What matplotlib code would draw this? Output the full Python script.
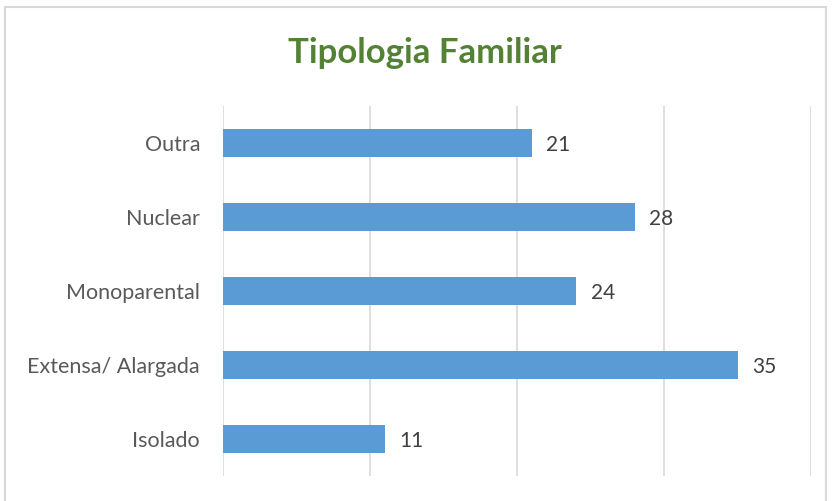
import matplotlib.pyplot as plt
from matplotlib.patches import Rectangle

categories = ['Isolado', 'Extensa/ Alargada', 'Monoparental', 'Nuclear', 'Outra']
values = [11, 35, 24, 28, 21]

plt.rcParams['font.family'] = ['Lato', 'DejaVu Sans']

W, H = 832, 501
fig = plt.figure(figsize=(W / 100, H / 100), dpi=100)
ax = fig.add_axes([223 / W, (H - 476) / H, (811 - 223) / W, 370 / H])

# chart frame
fig.patches.append(Rectangle((5 / W, -0.05), (826 - 5) / W, (H - 7) / H + 0.05,
                             transform=fig.transFigure, fill=False,
                             edgecolor='#d9d9d9', linewidth=1.5))

y = range(len(categories))
ax.barh(y, values, height=0.365, color='#5b9bd5', zorder=3)
for yi, v in zip(y, values):
    ax.text(v + 1.0, yi - 0.03, str(v), va='center', ha='left', fontsize=15, color='#404040')

ax.set_xlim(0, 40)
ax.set_ylim(-0.5, len(categories) - 0.5)
ax.set_xticks([0, 10, 20, 30, 40])
ax.set_xticklabels([])
ax.grid(axis='x', color='#d9d9d9', linewidth=1.2, zorder=0)
ax.set_yticks(list(y))
ax.set_yticklabels(categories, fontsize=15.5, color='#595959')
ax.tick_params(length=0, pad=16.5)
for s in ax.spines.values():
    s.set_visible(False)

fig.text(425 / W, 1 - 53 / H, 'Tipologia Familiar', ha='center', va='center',
         fontsize=25, fontweight='bold', color='#548235')

fig.savefig('out.png', dpi=100)
